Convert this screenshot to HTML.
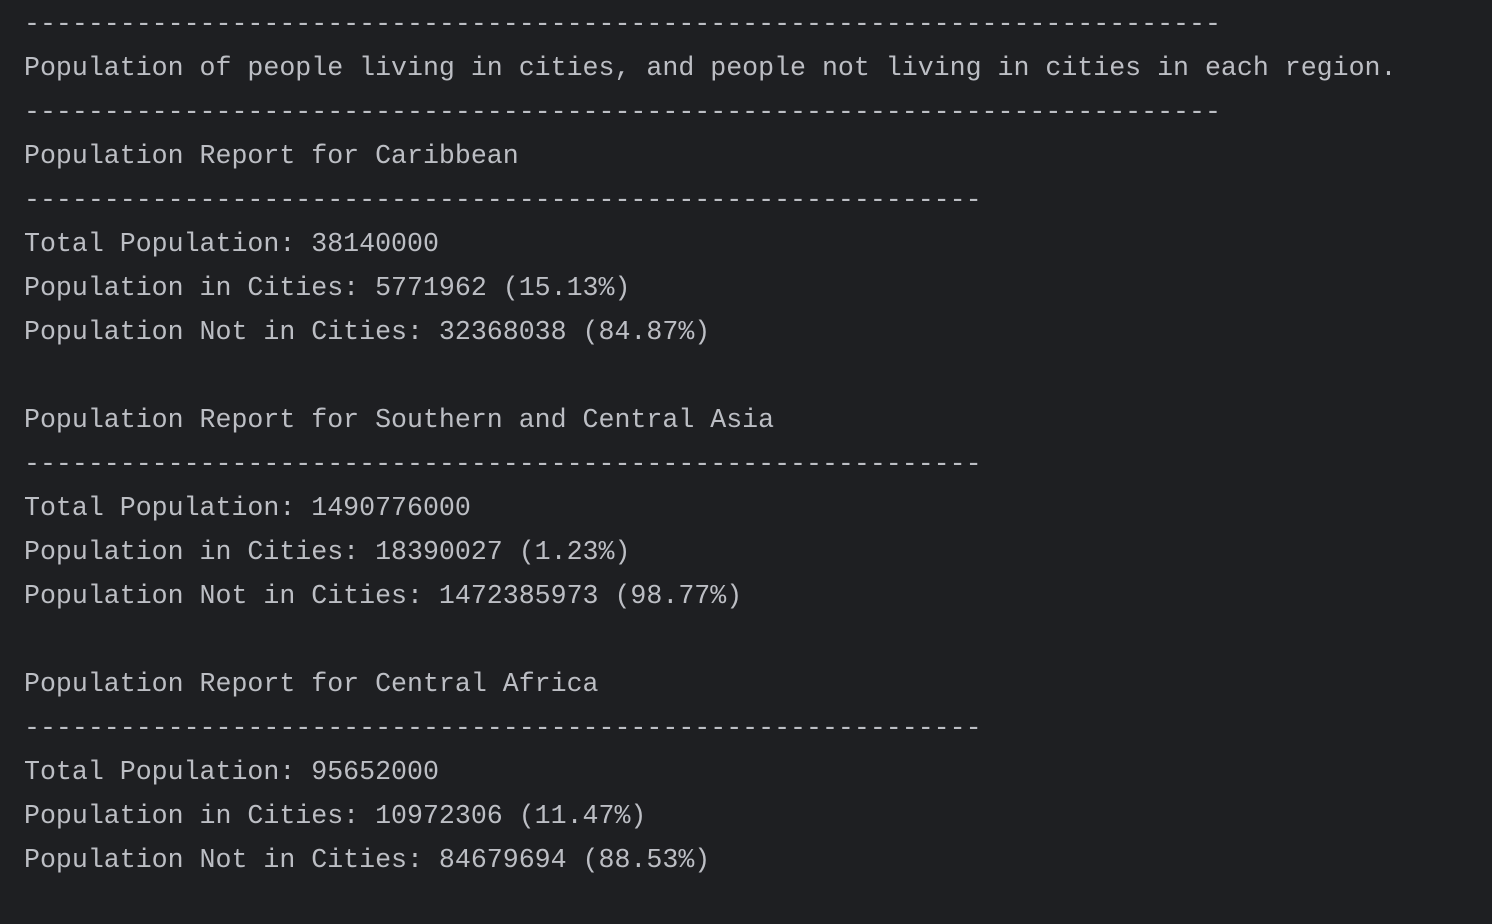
<!DOCTYPE html>
<html>
<head>
<meta charset="utf-8">
<style>
html,body{margin:0;padding:0;background:#1e1f22;}
body{width:1492px;height:924px;overflow:hidden;}
pre{margin:0;padding:2px 0 0 24px;font-family:"Liberation Mono","DejaVu Sans Mono",monospace;font-size:26.6px;line-height:44px;color:#bcbec4;}
</style>
</head>
<body>
<pre>---------------------------------------------------------------------------
Population of people living in cities, and people not living in cities in each region.
---------------------------------------------------------------------------
Population Report for Caribbean
------------------------------------------------------------
Total Population: 38140000
Population in Cities: 5771962 (15.13%)
Population Not in Cities: 32368038 (84.87%)

Population Report for Southern and Central Asia
------------------------------------------------------------
Total Population: 1490776000
Population in Cities: 18390027 (1.23%)
Population Not in Cities: 1472385973 (98.77%)

Population Report for Central Africa
------------------------------------------------------------
Total Population: 95652000
Population in Cities: 10972306 (11.47%)
Population Not in Cities: 84679694 (88.53%)</pre>
</body>
</html>
